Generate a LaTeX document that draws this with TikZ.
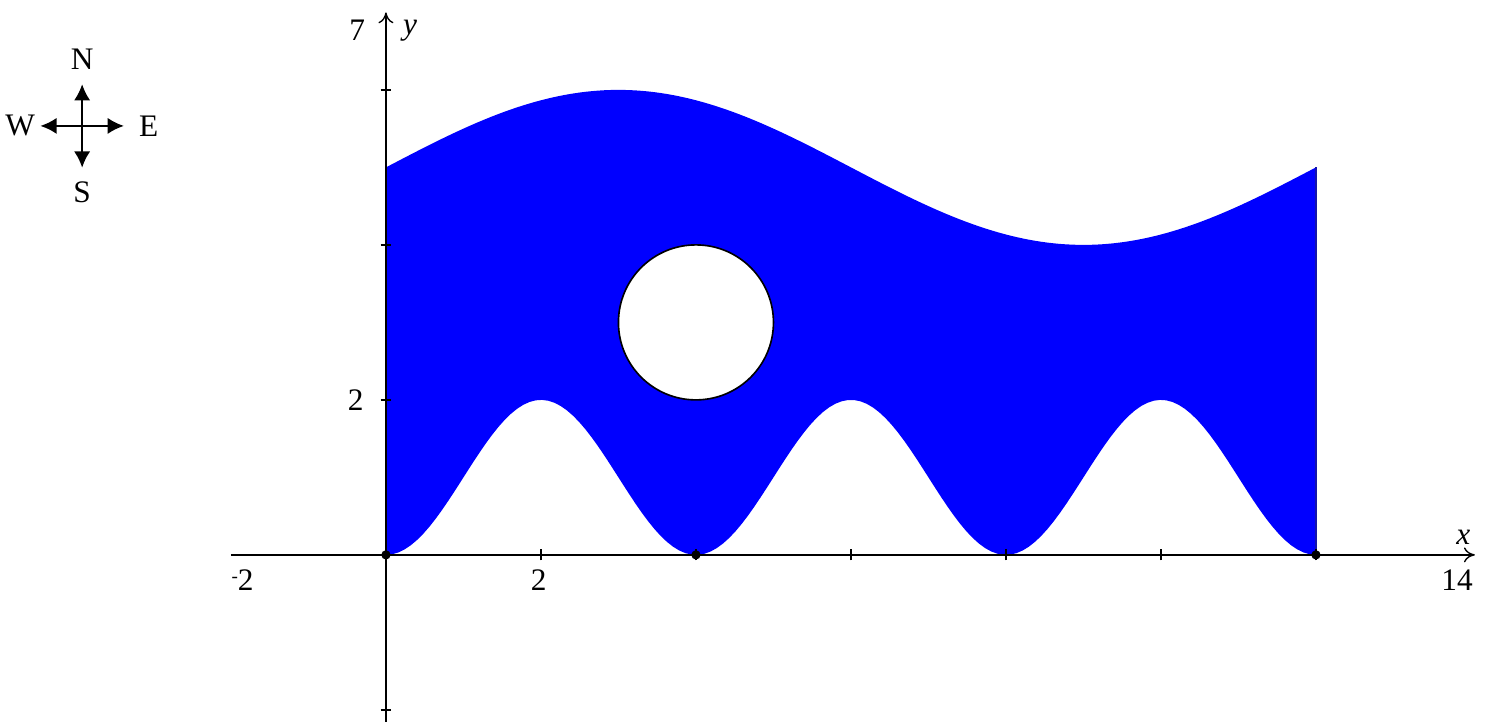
\documentclass[tikz,border=0pt]{standalone}
\usepackage{fontspec}
\setmainfont{Liberation Serif}
\usetikzlibrary{arrows.meta}
\definecolor{waterblue}{RGB}{0, 0, 255}
\definecolor{edgeblue}{RGB}{20, 20, 170}

\begin{document}
\begin{tikzpicture}[font=\fontsize{11.5}{13}\selectfont,
		axis/.style={line width=0.5pt, -{To[length=4pt, width=5.5pt]}},
		compass/.style={line width=0.9pt, -{Latex[length=6pt, width=6pt]}},
		tickmark/.style={line width=0.5pt},
		dot/.style={circle, fill=black, inner sep=0pt, minimum size=0.12cm}]
	\useasboundingbox (-4.98,-2.23) rectangle (14.22,7.16);
	% region between the two curves
	\fill[waterblue] plot[domain=0:12, samples=150] (\x,{5+sin(30*\x)})
		-- plot[domain=12:0, samples=150] (\x,{1-cos(90*\x)}) -- cycle;
	\coordinate (rbot) at (12,0);
	\coordinate (rtop) at (12,5);
	\draw[edgeblue, line width=0.6pt] (rbot) -- (rtop);
	% hole
	\node[circle, draw=black, fill=white, line width=0.6pt, minimum size=2cm, inner sep=0pt] (hole) at (4,3) {};
	% axes
	\coordinate (xmin) at (-2,0);
	\coordinate (xmax) at (14.05,0);
	\coordinate (ymin) at (0,-2.15);
	\coordinate (ymax) at (0,7);
	\draw[axis] (xmin) -- (xmax);
	\draw[axis] (ymin) -- (ymax);
	\foreach \i in {2,4,...,12} {
		\draw[tickmark] (\i,-0.07) -- (\i,0.07);
	}
	\foreach \j in {-2,2,4,6} {
		\draw[tickmark] (-0.07,\j) -- (0.07,\j);
	}
	\foreach \p in {0,4,12} {
		\node[dot] (zero\p) at (\p,0) {};
	}
	% axis labels
	\node (ysev) at (-0.37,6.77) {7};
	\node (ylab) at (0.31,6.77) {\textit{y}};
	\node (ytwo) at (-0.39,2) {2};
	\node (xneg) at (-1.85,-0.32) {\raisebox{0.5ex}{\scriptsize -}2};
	\node (xtwo) at (1.97,-0.32) {2};
	\node (xfrt) at (13.82,-0.32) {14};
	\node (xlab) at (13.9,0.23) {\textit{x}};
	% compass
	\coordinate (cc) at (-3.92,5.535);
	\foreach \name/\dir/\d in {N/90/0.86,E/0/0.86,S/270/0.86,W/180/0.80} {
		\coordinate (tip\name) at ([shift={(\dir:0.54)}]cc);
		\node (lab\name) at ([shift={(\dir:\d)}]cc) {\name};
		\draw[compass] (cc) -- (tip\name);
	}
\end{tikzpicture}
\end{document}
